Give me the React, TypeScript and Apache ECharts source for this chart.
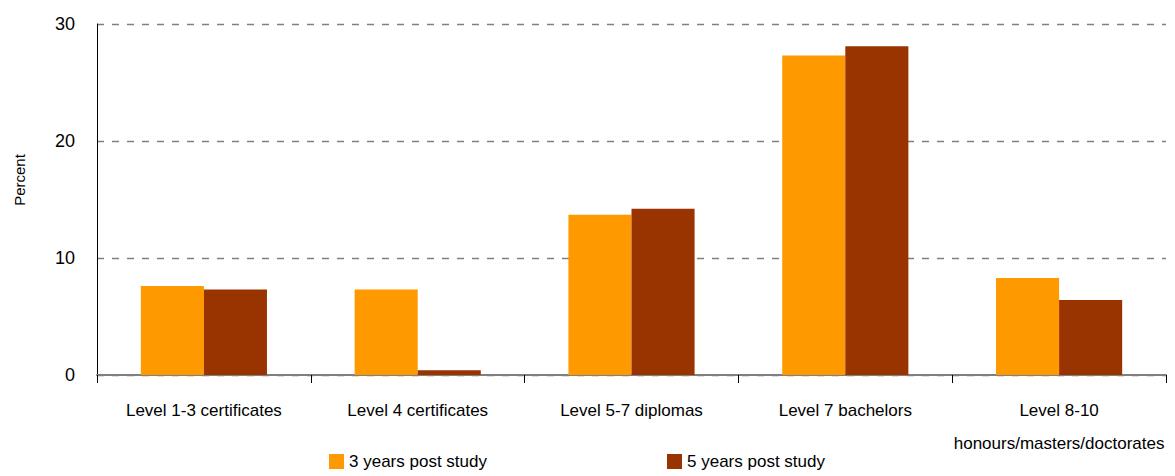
import React, { useEffect, useRef } from "react";
import * as echarts from "echarts";

const categories = [
  "Level 1-3 certificates",
  "Level 4 certificates",
  "Level 5-7 diplomas",
  "Level 7 bachelors",
  "Level 8-10\nhonours/masters/doctorates",
];
const threeYears = [7.6, 7.3, 13.7, 27.3, 8.3];
const fiveYears = [7.3, 0.4, 14.2, 28.1, 6.4];
const seriesNames = ["3 years post study", "5 years post study"];
const yTicks = [0, 10, 20, 30];
const yTitle = "Percent";

export default function App() {
  const ref = useRef<HTMLDivElement>(null);
  useEffect(() => {
    if (!ref.current) return;
    const chart = echarts.init(ref.current, null, { renderer: "svg" });
    const font = "Liberation Sans, Arial, sans-serif";
    const legendText = { fontSize: 17, color: "#000", fontFamily: font, padding: [0, 0, 0, 0] };
    chart.setOption({
      animation: false,
      textStyle: { fontFamily: font },
      grid: { left: 97, right: 9, top: 24, bottom: 101, containLabel: false },
      legend: [
        {
          data: [seriesNames[0]],
          left: 327,
          top: 451,
          itemWidth: 15,
          itemHeight: 15,
          icon: "rect",
          padding: 2,
          textStyle: legendText,
        },
        {
          data: [seriesNames[1]],
          left: 665,
          top: 451,
          itemWidth: 15,
          itemHeight: 15,
          icon: "rect",
          padding: 2,
          textStyle: legendText,
        },
      ],
      graphic: [
        {
          type: "text",
          x: 19,
          y: 180,
          rotation: Math.PI / 2,
          style: {
            text: yTitle,
            fontSize: 15,
            fontFamily: font,
            fill: "#000",
            align: "center",
            verticalAlign: "middle",
          },
        },
      ],
      xAxis: {
        type: "category",
        data: categories,
        boundaryGap: true,
        axisLine: { lineStyle: { color: "#808080", width: 2 } },
        axisTick: { show: true, alignWithLabel: false, length: 8, lineStyle: { color: "#000", width: 1 } },
        axisLabel: {
          color: "#000",
          fontSize: 17,
          margin: 19,
          lineHeight: 33,
          interval: 0,
          verticalAlign: "top",
        },
      },
      yAxis: {
        type: "value",
        min: yTicks[0],
        max: yTicks[yTicks.length - 1],
        interval: 10,
        axisLine: { show: true, lineStyle: { color: "#000", width: 1 } },
        axisTick: { show: false },
        axisLabel: { color: "#000", fontSize: 18, margin: 22 },
        splitLine: { show: true, lineStyle: { color: "#808080", type: [7, 8], width: 1.3 } },
      },
      series: [
        {
          name: seriesNames[0],
          type: "bar",
          data: threeYears,
          barGap: "0%",
          barCategoryGap: "41%",
          itemStyle: { color: "#FF9900" },
        },
        {
          name: seriesNames[1],
          type: "bar",
          data: fiveYears,
          barGap: "0%",
          barCategoryGap: "41%",
          itemStyle: { color: "#993300" },
        },
      ],
    });
    return () => chart.dispose();
  }, []);
  return <div ref={ref} style={{ width: 1175, height: 476, position: "absolute", left: 0, top: 0 }} />;
}
